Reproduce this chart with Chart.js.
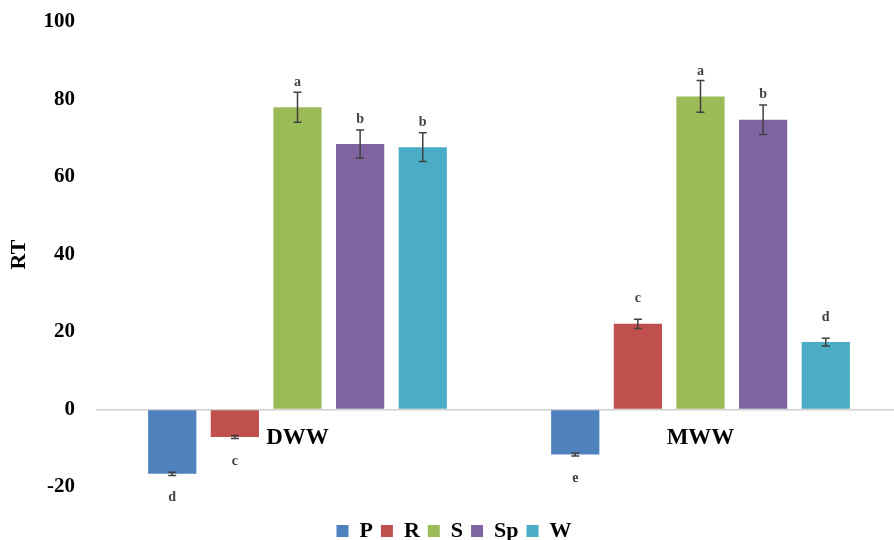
<!DOCTYPE html>
<html><head><meta charset="utf-8">
<script src="https://cdn.jsdelivr.net/npm/chart.js@4/dist/chart.umd.min.js"></script>
<style>html,body{margin:0;padding:0;background:#fff}#wrap{width:894px;height:540px}</style>
</head><body><div id="wrap"><canvas id="c" width="894" height="540"></canvas></div>
<script>
const categories = ["DWW", "MWW"];
const seriesNames = ["P", "R", "S", "Sp", "W"];
const colors = ["#4F81BD", "#C0504D", "#9BBB59", "#8064A2", "#4BACC6"];
const P  = [-16.6, -11.6];
const R  = [-7.1, 22.1];
const S  = [78.0, 80.8];
const Sp = [68.5, 74.8];
const W  = [67.7, 17.4];
const errP  = [0.4, 0.4];
const errR  = [0.4, 1.2];
const errS  = [3.9, 4.1];
const errSp = [3.6, 3.8];
const errW  = [3.7, 1.0];
const lettersP  = ["d", "e"];
const lettersR  = ["c", "c"];
const lettersS  = ["a", "a"];
const lettersSp = ["b", "b"];
const lettersW  = ["b", "d"];
const yTicks = [-20, 0, 20, 40, 60, 80, 100];

const values = [P, R, S, Sp, W];
const errs = [errP, errR, errS, errSp, errW];
const letters = [lettersP, lettersR, lettersS, lettersSp, lettersW];
const FONT = "'Liberation Serif', 'Times New Roman', serif";

// the plot area of the original runs slightly past the right edge of the picture
const widenX = {
  id: 'widenX',
  afterLayout(chart) {
    const x = chart.scales.x;
    x.right = x.left + chart.chartArea.width + 8;
    x.width = x.right - x.left;
    x.configure();
  }
};

const overlay = {
  id: 'overlay',
  afterDatasetsDraw(chart) {
    const ctx = chart.ctx;
    const y = chart.scales.y;
    const x = chart.scales.x;
    ctx.save();
    chart.data.datasets.forEach((ds, i) => {
      const meta = chart.getDatasetMeta(i);
      meta.data.forEach((bar, j) => {
        const v = ds.data[j], e = errs[i][j];
        const hi = y.getPixelForValue(v + e), lo = y.getPixelForValue(v - e);
        ctx.strokeStyle = '#404040';
        ctx.lineWidth = 1.5;
        ctx.beginPath();
        ctx.moveTo(bar.x, hi); ctx.lineTo(bar.x, lo);
        ctx.moveTo(bar.x - 4, hi); ctx.lineTo(bar.x + 4, hi);
        ctx.moveTo(bar.x - 4, lo); ctx.lineTo(bar.x + 4, lo);
        ctx.stroke();
        ctx.fillStyle = '#404040';
        ctx.font = 'bold 14px ' + FONT;
        ctx.textAlign = 'center';
        ctx.textBaseline = 'middle';
        const ty = v >= 0 ? bar.y - 25 : bar.y + 24;
        ctx.fillText(letters[i][j], bar.x, ty);
      });
    });
    ctx.fillStyle = '#000';
    ctx.font = 'bold 23px ' + FONT;
    ctx.textAlign = 'center';
    ctx.textBaseline = 'middle';
    categories.forEach((c, k) => {
      ctx.fillText(c, x.getPixelForValue(k), y.getPixelForValue(0) + 29);
    });
    ctx.restore();
  }
};

new Chart(document.getElementById('c'), {
  type: 'bar',
  data: {
    labels: categories,
    datasets: seriesNames.map((n, i) => ({
      label: n, data: values[i], backgroundColor: colors[i],
      borderWidth: 0, categoryPercentage: 0.777, barPercentage: 0.77
    }))
  },
  options: {
    responsive: false, animation: false,
    devicePixelRatio: 1,
    layout: { padding: { top: 22, right: -8, left: 6, bottom: -12 } },
    plugins: {
      tooltip: { enabled: false },
      legend: {
        position: 'bottom',
        title: { display: true, text: ' ', font: { size: 10 }, padding: { top: 6.5, bottom: 6.5 } },
        labels: { boxWidth: 12, boxHeight: 12, padding: 8, color: '#000',
          font: { family: FONT, size: 22, weight: 'bold' } }
      }
    },
    scales: {
      x: { display: false },
      y: {
        min: -20, max: 100,
        afterBuildTicks: (s) => { s.ticks = yTicks.map(v => ({ value: v })); },
        afterFit: (s) => { s.width = 90; s.paddingTop = 0; s.paddingBottom = 0; },
        ticks: { color: '#000', padding: 21, font: { family: FONT, size: 21, weight: 'bold' } },
        border: { display: false },
        grid: { drawTicks: false, lineWidth: 1.5, color: (c) => c.tick && c.tick.value === 0 ? '#d0d0d0' : 'rgba(0,0,0,0)' },
        title: { display: true, text: 'RT', color: '#000', padding: { top: 0, bottom: 0 },
          font: { family: FONT, size: 22, weight: 'bold' } }
      }
    }
  },
  plugins: [widenX, overlay]
});
</script>
</body></html>
